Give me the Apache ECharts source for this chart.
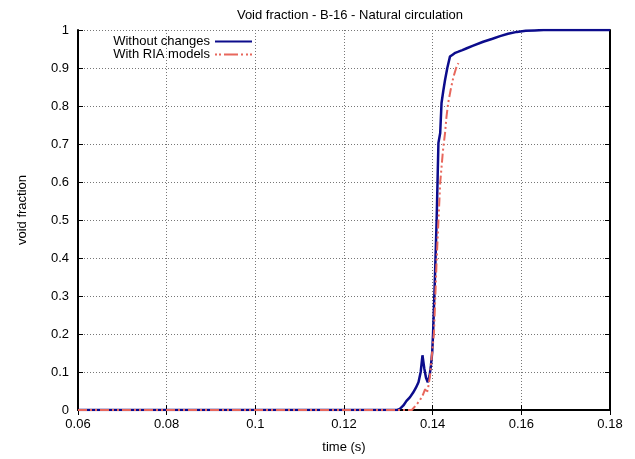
<!DOCTYPE html>
<html>
<head>
<meta charset="utf-8">
<script src="https://cdn.jsdelivr.net/npm/echarts@6/dist/echarts.min.js"></script>
<style>html,body{margin:0;padding:0;background:#fff;}#c{width:635px;height:459px;}</style>
</head>
<body>
<div id="c"></div>
<script>
const titleText = 'Void fraction - B-16 - Natural circulation';
const xName = 'time (s)';
const yName = 'void fraction';
const seriesNames = ['Without changes', 'With RIA models'];

const tBase = [0.06,0.1320,0.1326,0.1334,0.1341,0.1349,0.1356,0.1362,0.1368,0.1373,0.1377,0.1381,0.1385,0.1389,0.1393,0.1396,0.1399,0.1401,0.1405,0.1409,0.1413,0.1417,0.1420,0.1424,0.1428,0.1433,0.1439,0.1445,0.1451,0.1458,0.1467,0.1477,0.1490,0.1514,0.1535,0.1552,0.1570,0.1590,0.1610,0.1630,0.1650,0.18];
const vBase = [0,0,0.003,0.012,0.024,0.034,0.046,0.058,0.073,0.100,0.144,0.110,0.085,0.073,0.090,0.116,0.152,0.204,0.344,0.501,0.703,0.729,0.808,0.840,0.869,0.900,0.930,0.935,0.940,0.943,0.947,0.952,0.958,0.969,0.977,0.984,0.990,0.995,0.998,0.999,1,1];

const tRia = [0.06,0.1353,0.1362,0.1371,0.1378,0.1383,0.1387,0.1390,0.1394,0.1397,0.1400,0.1403,0.1409,0.1417,0.1423,0.1428,0.1431,0.1435,0.1441,0.1447,0.1453,0.1458];
const vRia = [0,0,0.012,0.025,0.040,0.055,0.045,0.060,0.090,0.130,0.165,0.204,0.396,0.598,0.680,0.730,0.770,0.808,0.845,0.877,0.900,0.913];

const xTicks = {min:0.06, max:0.18, interval:0.02};
const yTicks = {min:0, max:1, interval:0.1};

const pairs = (t, v) => t.map((x, i) => [x, v[i]]);
const fmt = v => String(parseFloat(v.toFixed(2)));
const font = 'Liberation Sans, Arial, sans-serif';
const fs = 13;
const blue = '#0c0c8c';
const red = '#e8675c';

const chart = echarts.init(document.getElementById('c'));
const frame = {show:true, lineStyle:{color:'#000', width:2}};
const legendBase = {
  orient:'vertical', right:378, align:'right', itemGap:0,
  itemWidth:37,
  textStyle:{fontSize:fs, color:'#000', fontFamily:font}
};
const solidIcon = 'path://M0,0h37v2h-37z';
const dashIcon = 'path://M0,0h2v2h-2z M4,0h2v2h-2z M9,0h14v2h-14z M26,0h2v2h-2z M31,0h2v2h-2z M35,0h2v2h-2z';
chart.setOption({
  animation:false,
  backgroundColor:'#fff',
  title:{text:titleText, left:345, top:4, textAlign:'center',
    textStyle:{fontSize:fs, fontWeight:'normal', color:'#000', fontFamily:font}},
  legend:[
    Object.assign({}, legendBase, {top:30, itemHeight:2.5,
      data:[{name:seriesNames[0], icon:solidIcon, itemStyle:{color:blue}}]}),
    Object.assign({}, legendBase, {top:43, itemHeight:2.2,
      data:[{name:seriesNames[1], icon:dashIcon, itemStyle:{color:red}}]})
  ],
  grid:{left:78, right:25, top:30, bottom:48, containLabel:false},
  xAxis:[{
    type:'value', min:xTicks.min, max:xTicks.max, interval:xTicks.interval,
    name:xName, nameLocation:'middle', nameGap:31,
    nameTextStyle:{fontSize:fs, color:'#000', fontFamily:font},
    axisLine:frame, axisTick:{show:true, inside:true, length:5, lineStyle:{color:'#000'}},
    axisLabel:{fontSize:fs, color:'#000', fontFamily:font, margin:8, formatter:fmt},
    splitLine:{show:true, lineStyle:{color:'#777', type:[1,2], width:1}}
  },{
    type:'value', position:'top', min:xTicks.min, max:xTicks.max, interval:xTicks.interval,
    axisLine:frame, axisTick:{show:true, inside:true, length:5, lineStyle:{color:'#000'}},
    axisLabel:{show:false}, splitLine:{show:false}
  }],
  yAxis:[{
    type:'value', min:yTicks.min, max:yTicks.max, interval:yTicks.interval,
    axisLine:frame, axisTick:{show:true, inside:true, length:5, lineStyle:{color:'#000'}},
    axisLabel:{fontSize:fs, color:'#000', fontFamily:font, margin:9, formatter:fmt},
    splitLine:{show:true, lineStyle:{color:'#777', type:[1,2], width:1}}
  },{
    type:'value', position:'right', min:yTicks.min, max:yTicks.max, interval:yTicks.interval,
    axisLine:frame, axisTick:{show:true, inside:true, length:5, lineStyle:{color:'#000'}},
    axisLabel:{show:false}, splitLine:{show:false}
  }],
  graphic:[{
    type:'text', x:22, y:210, rotation:Math.PI/2,
    style:{text:yName, fontSize:fs, fill:'#000', fontFamily:font, align:'center', verticalAlign:'middle'}
  }],
  series:[{
    name:seriesNames[0], type:'line', data:pairs(tBase, vBase), showSymbol:false, symbol:'none',
    lineStyle:{color:blue, width:2.5}, itemStyle:{color:blue}, z:2
  },{
    name:seriesNames[1], type:'line', data:pairs(tRia, vRia), showSymbol:false, symbol:'none',
    lineStyle:{color:red, width:2, type:[9,3,2,3,2,3]}, itemStyle:{color:red}, z:3
  }]
});
</script>
</body>
</html>
